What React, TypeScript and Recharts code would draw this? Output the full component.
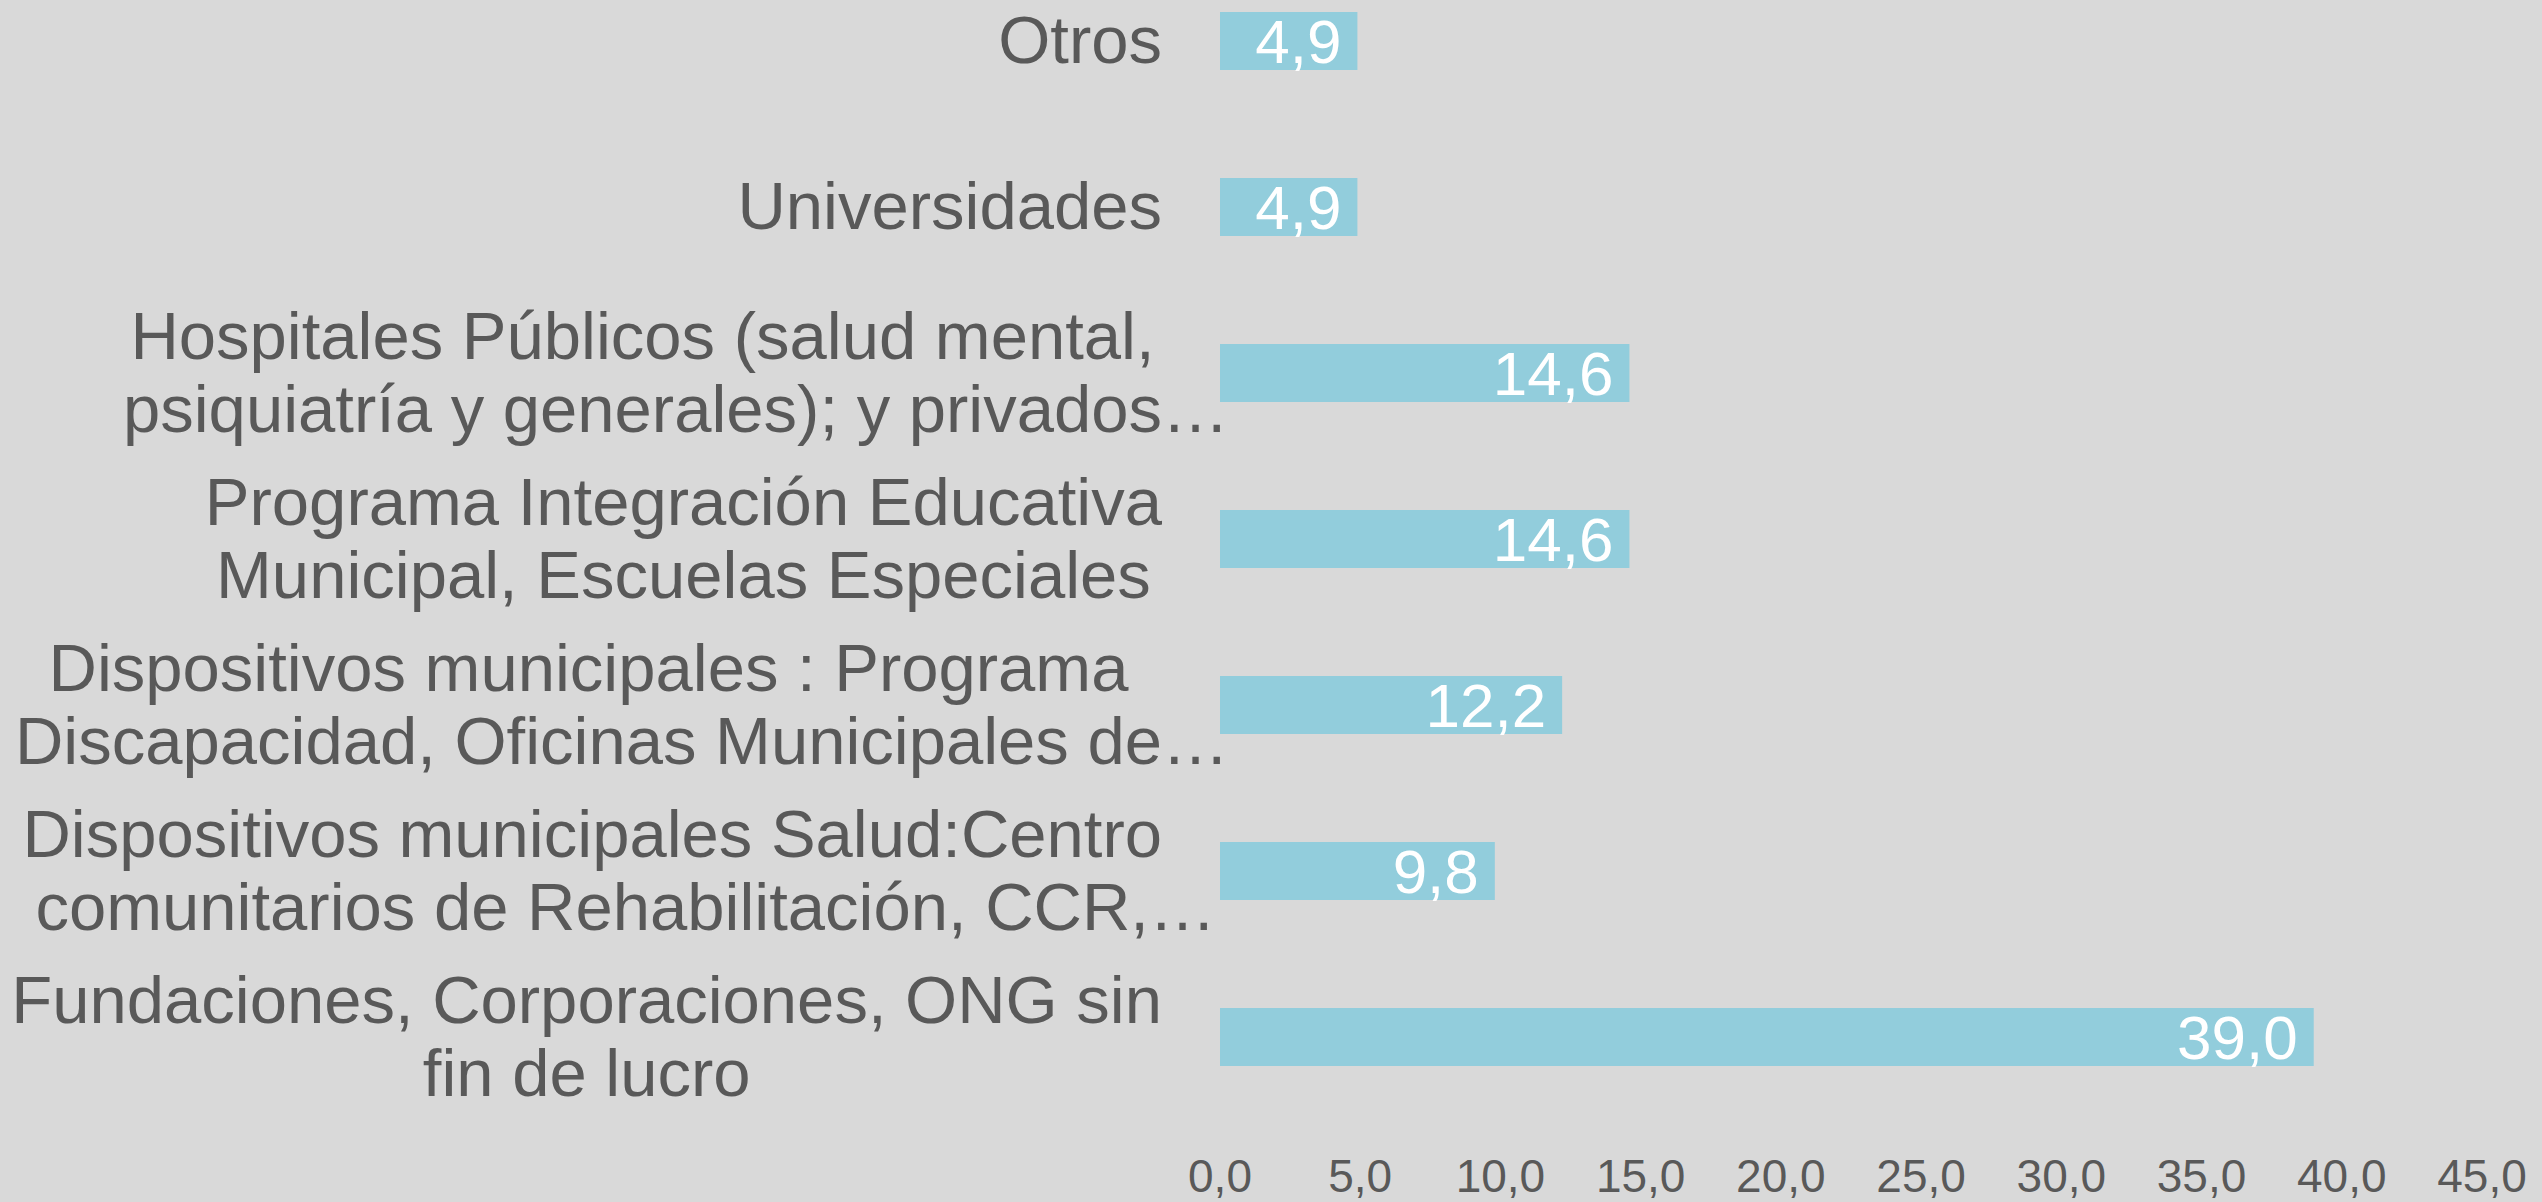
import React from "react";
import { BarChart, Bar, XAxis, YAxis, LabelList } from "recharts";

const categoryLines: string[][] = [
  ["Otros"],
  ["Universidades"],
  ["Hospitales Públicos (salud mental,", "psiquiatría y generales); y privados…"],
  ["Programa Integración Educativa", "Municipal, Escuelas Especiales"],
  ["Dispositivos municipales : Programa", "Discapacidad, Oficinas Municipales de…"],
  ["Dispositivos municipales Salud:Centro", "comunitarios de Rehabilitación, CCR,…"],
  ["Fundaciones, Corporaciones, ONG sin", "fin de lucro"],
];
const categories = categoryLines.map((l) => l.join(" "));
const values = [4.9, 4.9, 14.6, 14.6, 12.2, 9.8, 39.0];
const xTicks = [0, 5, 10, 15, 20, 25, 30, 35, 40, 45];

const data = categories.map((name, i) => ({ name, value: values[i] }));

const FONT = "'Liberation Sans', Arial, sans-serif";
const TEXT = "#595959";
const BAR = "#92cddc";
const CAT_SIZE = 67;
const LINE_H = 73;
const LABEL_RIGHT = 1162;

const fmt = (v: number) => v.toFixed(1).replace(".", ",");

let ctx: CanvasRenderingContext2D | null = null;
function textWidth(s: string) {
  if (!ctx) ctx = document.createElement("canvas").getContext("2d");
  if (!ctx) return s.length * CAT_SIZE * 0.5;
  ctx.font = `${CAT_SIZE}px 'Liberation Sans', Arial, sans-serif`;
  return ctx.measureText(s).width;
}

// category labels: lines centred on each other, block right-aligned next to the bars
function CategoryTick(props: any) {
  const { y, payload } = props;
  const idx = categories.indexOf(payload.value);
  const lines = categoryLines[idx] || [String(payload.value)];
  const bases = lines.map((l) => l.replace(/…$/, ""));
  const widths = bases.map(textWidth);
  const blockW = Math.max(...widths);
  const center = LABEL_RIGHT - blockW / 2;
  const first = y + 22 - ((lines.length - 1) * LINE_H) / 2;
  return (
    <g>
      {lines.map((line, i) => {
        const truncated = line.endsWith("…");
        return (
          <text
            key={i}
            x={truncated ? center - widths[i] / 2 : center}
            y={first + i * LINE_H}
            textAnchor={truncated ? "start" : "middle"}
            fill={TEXT}
            fontSize={CAT_SIZE}
            fontFamily={FONT}
          >
            {line}
          </text>
        );
      })}
    </g>
  );
}

function ValueTick(props: any) {
  const { x, y, payload } = props;
  return (
    <text
      x={x}
      y={y + 72}
      textAnchor="middle"
      fill={TEXT}
      fontSize={46}
      fontFamily={FONT}
    >
      {fmt(payload.value)}
    </text>
  );
}

export default function App() {
  return (
    <div
      style={{
        position: "absolute",
        left: 0,
        top: 0,
        width: 2542,
        height: 1202,
        overflow: "hidden",
        background: "#d9d9d9",
      }}
    >
      <div style={{ position: "relative", top: -42 }}>
        <BarChart
          width={2542}
          height={1244}
          data={data}
          layout="vertical"
          margin={{ top: 0, right: 60, left: 0, bottom: 0 }}
        >
          <XAxis
            type="number"
            domain={[0, 45]}
            ticks={xTicks}
            axisLine={false}
            tickLine={false}
            tickSize={0}
            tickMargin={0}
            height={82}
            tick={<ValueTick />}
          />
          <YAxis
            type="category"
            dataKey="name"
            width={1220}
            axisLine={false}
            tickLine={false}
            interval={0}
            tick={<CategoryTick />}
          />
          <Bar dataKey="value" fill={BAR} barSize={58} isAnimationActive={false}>
            <LabelList
              dataKey="value"
              position="insideRight"
              offset={16}
              fill="#ffffff"
              fontSize={62}
              fontFamily={FONT}
              formatter={(v: any) => fmt(Number(v))}
            />
          </Bar>
        </BarChart>
      </div>
    </div>
  );
}
